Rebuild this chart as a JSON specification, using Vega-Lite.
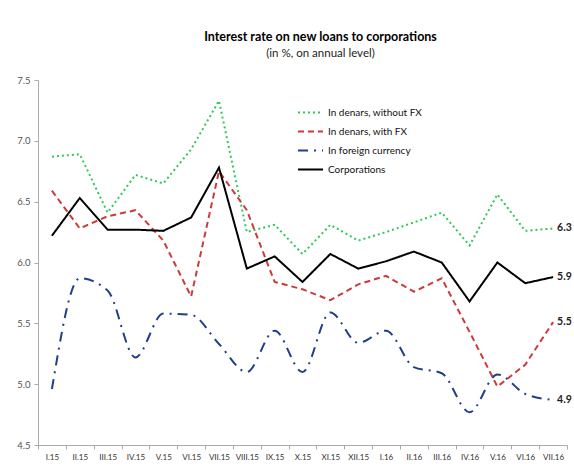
{
  "$schema": "https://vega.github.io/schema/vega-lite/v6.json",
  "autosize": {"type": "none"},
  "width": 529,
  "height": 365,
  "padding": {"left": 38, "top": 80, "right": 7, "bottom": 23},
  "background": "white",
  "config": {
    "view": {"stroke": null},
    "font": "Lato"
  },
  "title": {
    "text": "Interest rate on new loans to corporations",
    "subtitle": "(in %, on annual level)",
    "font": "Lato",
    "subtitleFont": "Lato",
    "fontSize": 12.5,
    "fontWeight": "bold",
    "subtitleFontSize": 11.5,
    "subtitleColor": "#222",
    "subtitlePadding": 4,
    "anchor": "middle",
    "dx": 18,
    "offset": 16
  },
  "data": {
    "values": [
      {"month": "I.15", "series": "In denars, without FX", "value": 6.87},
      {"month": "II.15", "series": "In denars, without FX", "value": 6.89},
      {"month": "III.15", "series": "In denars, without FX", "value": 6.41},
      {"month": "IV.15", "series": "In denars, without FX", "value": 6.72},
      {"month": "V.15", "series": "In denars, without FX", "value": 6.65},
      {"month": "VI.15", "series": "In denars, without FX", "value": 6.93},
      {"month": "VII.15", "series": "In denars, without FX", "value": 7.33},
      {"month": "VIII.15", "series": "In denars, without FX", "value": 6.25},
      {"month": "IX.15", "series": "In denars, without FX", "value": 6.31},
      {"month": "X.15", "series": "In denars, without FX", "value": 6.07},
      {"month": "XI.15", "series": "In denars, without FX", "value": 6.31},
      {"month": "XII.15", "series": "In denars, without FX", "value": 6.18},
      {"month": "I.16", "series": "In denars, without FX", "value": 6.25},
      {"month": "II.16", "series": "In denars, without FX", "value": 6.33},
      {"month": "III.16", "series": "In denars, without FX", "value": 6.41},
      {"month": "IV.16", "series": "In denars, without FX", "value": 6.14},
      {"month": "V.16", "series": "In denars, without FX", "value": 6.56},
      {"month": "VI.16", "series": "In denars, without FX", "value": 6.26},
      {"month": "VII.16", "series": "In denars, without FX", "value": 6.28},
      {"month": "I.15", "series": "In denars, with FX", "value": 6.59},
      {"month": "II.15", "series": "In denars, with FX", "value": 6.28},
      {"month": "III.15", "series": "In denars, with FX", "value": 6.38},
      {"month": "IV.15", "series": "In denars, with FX", "value": 6.43},
      {"month": "V.15", "series": "In denars, with FX", "value": 6.18},
      {"month": "VI.15", "series": "In denars, with FX", "value": 5.72},
      {"month": "VII.15", "series": "In denars, with FX", "value": 6.75},
      {"month": "VIII.15", "series": "In denars, with FX", "value": 6.43},
      {"month": "IX.15", "series": "In denars, with FX", "value": 5.84},
      {"month": "X.15", "series": "In denars, with FX", "value": 5.78},
      {"month": "XI.15", "series": "In denars, with FX", "value": 5.69},
      {"month": "XII.15", "series": "In denars, with FX", "value": 5.82},
      {"month": "I.16", "series": "In denars, with FX", "value": 5.89},
      {"month": "II.16", "series": "In denars, with FX", "value": 5.76},
      {"month": "III.16", "series": "In denars, with FX", "value": 5.87},
      {"month": "IV.16", "series": "In denars, with FX", "value": 5.43},
      {"month": "V.16", "series": "In denars, with FX", "value": 4.98},
      {"month": "VI.16", "series": "In denars, with FX", "value": 5.16},
      {"month": "VII.16", "series": "In denars, with FX", "value": 5.51},
      {"month": "I.15", "series": "In foreign currency", "value": 4.96},
      {"month": "II.15", "series": "In foreign currency", "value": 5.87},
      {"month": "III.15", "series": "In foreign currency", "value": 5.77},
      {"month": "IV.15", "series": "In foreign currency", "value": 5.22},
      {"month": "V.15", "series": "In foreign currency", "value": 5.58},
      {"month": "VI.15", "series": "In foreign currency", "value": 5.57},
      {"month": "VII.15", "series": "In foreign currency", "value": 5.33},
      {"month": "VIII.15", "series": "In foreign currency", "value": 5.10},
      {"month": "IX.15", "series": "In foreign currency", "value": 5.44},
      {"month": "X.15", "series": "In foreign currency", "value": 5.10},
      {"month": "XI.15", "series": "In foreign currency", "value": 5.59},
      {"month": "XII.15", "series": "In foreign currency", "value": 5.34},
      {"month": "I.16", "series": "In foreign currency", "value": 5.44},
      {"month": "II.16", "series": "In foreign currency", "value": 5.14},
      {"month": "III.16", "series": "In foreign currency", "value": 5.09},
      {"month": "IV.16", "series": "In foreign currency", "value": 4.77},
      {"month": "V.16", "series": "In foreign currency", "value": 5.08},
      {"month": "VI.16", "series": "In foreign currency", "value": 4.92},
      {"month": "VII.16", "series": "In foreign currency", "value": 4.87},
      {"month": "I.15", "series": "Corporations", "value": 6.22},
      {"month": "II.15", "series": "Corporations", "value": 6.53},
      {"month": "III.15", "series": "Corporations", "value": 6.27},
      {"month": "IV.15", "series": "Corporations", "value": 6.27},
      {"month": "V.15", "series": "Corporations", "value": 6.26},
      {"month": "VI.15", "series": "Corporations", "value": 6.37},
      {"month": "VII.15", "series": "Corporations", "value": 6.78},
      {"month": "VIII.15", "series": "Corporations", "value": 5.95},
      {"month": "IX.15", "series": "Corporations", "value": 6.05},
      {"month": "X.15", "series": "Corporations", "value": 5.84},
      {"month": "XI.15", "series": "Corporations", "value": 6.07},
      {"month": "XII.15", "series": "Corporations", "value": 5.95},
      {"month": "I.16", "series": "Corporations", "value": 6.01},
      {"month": "II.16", "series": "Corporations", "value": 6.09},
      {"month": "III.16", "series": "Corporations", "value": 6.00},
      {"month": "IV.16", "series": "Corporations", "value": 5.68},
      {"month": "V.16", "series": "Corporations", "value": 6.00},
      {"month": "VI.16", "series": "Corporations", "value": 5.83},
      {"month": "VII.16", "series": "Corporations", "value": 5.88}
    ]
  },
  "encoding": {
    "x": {
      "field": "month",
      "type": "nominal",
      "bandPosition": 0.5,
      "sort": ["I.15","II.15","III.15","IV.15","V.15","VI.15","VII.15","VIII.15","IX.15","X.15","XI.15","XII.15","I.16","II.16","III.16","IV.16","V.16","VI.16","VII.16"],
      "scale": {"type": "band", "paddingInner": 0, "paddingOuter": 0},
      "axis": {
        "title": null,
        "labelAngle": 0,
        "labelFontSize": 8,
        "labelColor": "#333",
        "labelOverlap": false,
        "tickBand": "extent",
        "domainColor": "#aaa",
        "tickColor": "#aaa",
        "tickSize": 4,
        "labelPadding": 4
      }
    },
    "y": {
      "field": "value",
      "type": "quantitative",
      "scale": {"domain": [4.5, 7.5], "zero": false, "nice": false},
      "axis": {
        "title": null,
        "values": [4.5, 5.0, 5.5, 6.0, 6.5, 7.0, 7.5],
        "format": ".1f",
        "grid": false,
        "labelFontSize": 9.5,
        "labelColor": "#555",
        "domainColor": "#aaa",
        "tickColor": "#aaa",
        "tickSize": 4,
        "labelPadding": 4
      }
    }
  },
  "layer": [
    {
      "transform": [{"filter": "datum.series !== 'In foreign currency'"}],
      "mark": {"type": "line", "interpolate": "linear"},
      "encoding": {
        "color": {
          "field": "series", "type": "nominal",
          "scale": {"domain": ["In denars, without FX","In denars, with FX","In foreign currency","Corporations"], "range": ["#2ec95a","#cc3a3a","#1f3f8a","#000000"]},
          "legend": {
            "title": null,
            "orient": "none",
            "legendX": 259,
            "legendY": 19,
            "symbolType": "stroke",
            "symbolSize": 625,
            "labelFontSize": 10,
            "labelColor": "#111",
            "rowPadding": -5,
            "labelOffset": 4
          }
        },
        "strokeDash": {
          "field": "series", "type": "nominal",
          "scale": {"domain": ["In denars, without FX","In denars, with FX","In foreign currency","Corporations"], "range": [[2,3],[6,4],[10,6,2,6],[1,0]]}
        },
        "strokeWidth": {
          "field": "series", "type": "nominal",
          "scale": {"domain": ["In denars, without FX","In denars, with FX","In foreign currency","Corporations"], "range": [2,2,2.2,3.5]}
        }
      }
    },
    {
      "transform": [{"filter": "datum.series === 'In foreign currency'"}],
      "mark": {"type": "line", "interpolate": "monotone"},
      "encoding": {
        "color": {"field": "series", "type": "nominal"},
        "strokeDash": {"field": "series", "type": "nominal"},
        "strokeWidth": {"field": "series", "type": "nominal"}
      }
    },
    {
      "transform": [{"filter": "datum.month === 'VII.16'"}],
      "mark": {"type": "text", "align": "left", "dx": 4, "fontWeight": "bold", "fontSize": 10.5, "color": "#222"},
      "encoding": {
        "text": {"field": "value", "type": "quantitative", "format": ".1f"}
      }
    }
  ]
}
